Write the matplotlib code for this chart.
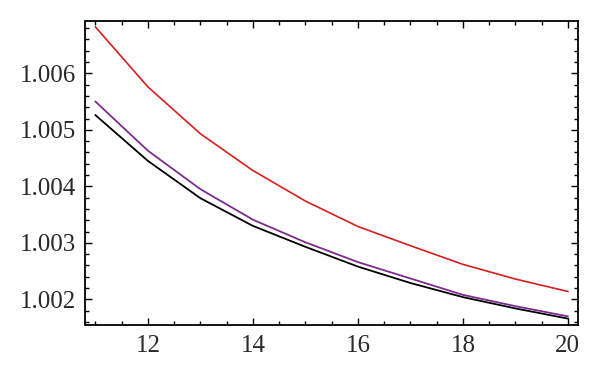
import matplotlib
matplotlib.use("Agg")
import matplotlib.pyplot as plt
from matplotlib.ticker import MultipleLocator, FormatStrFormatter

# data
n = [11, 12, 13, 14, 15, 16, 17, 18, 19, 20]
red_vals = [1.00682, 1.00576, 1.00493, 1.00428, 1.00374, 1.00329, 1.00295, 1.00262, 1.00236, 1.00214]
purple_vals = [1.00550, 1.00463, 1.00395, 1.00341, 1.00301, 1.00266, 1.00237, 1.00208, 1.00188, 1.00170]
black_vals = [1.00526, 1.00445, 1.00379, 1.00330, 1.00293, 1.00258, 1.00229, 1.00204, 1.00184, 1.00166]

plt.rcParams['font.family'] = ['Liberation Serif', 'DejaVu Serif']

fig = plt.figure(figsize=(6.0, 3.82), dpi=100)
ax = fig.add_axes([0.1425, 0.149, 0.8205, 0.796])

ax.plot(n, black_vals, color='black', lw=1.3)
ax.plot(n, purple_vals, color='#7b2d8e', lw=1.3)
ax.plot(n, red_vals, color='#d81e1e', lw=1.2)

ax.set_xlim(10.81, 20.19)
ax.set_ylim(1.001545, 1.006926)

ax.xaxis.set_major_locator(MultipleLocator(2))
ax.xaxis.set_minor_locator(MultipleLocator(0.5))
ax.yaxis.set_major_locator(MultipleLocator(0.001))
ax.yaxis.set_minor_locator(MultipleLocator(0.0002))
ax.yaxis.set_major_formatter(FormatStrFormatter('%.3f'))

ax.tick_params(which='both', direction='in', top=True, right=True, width=1.0, labelsize=18, colors='black')
ax.tick_params(which='major', length=5, pad=7)
ax.tick_params(which='minor', length=3)
for sp in ax.spines.values():
    sp.set_linewidth(1.3)
for lab in ax.get_xticklabels() + ax.get_yticklabels():
    lab.set_color('#2a2a2a')

fig.savefig('out.png', dpi=100)
